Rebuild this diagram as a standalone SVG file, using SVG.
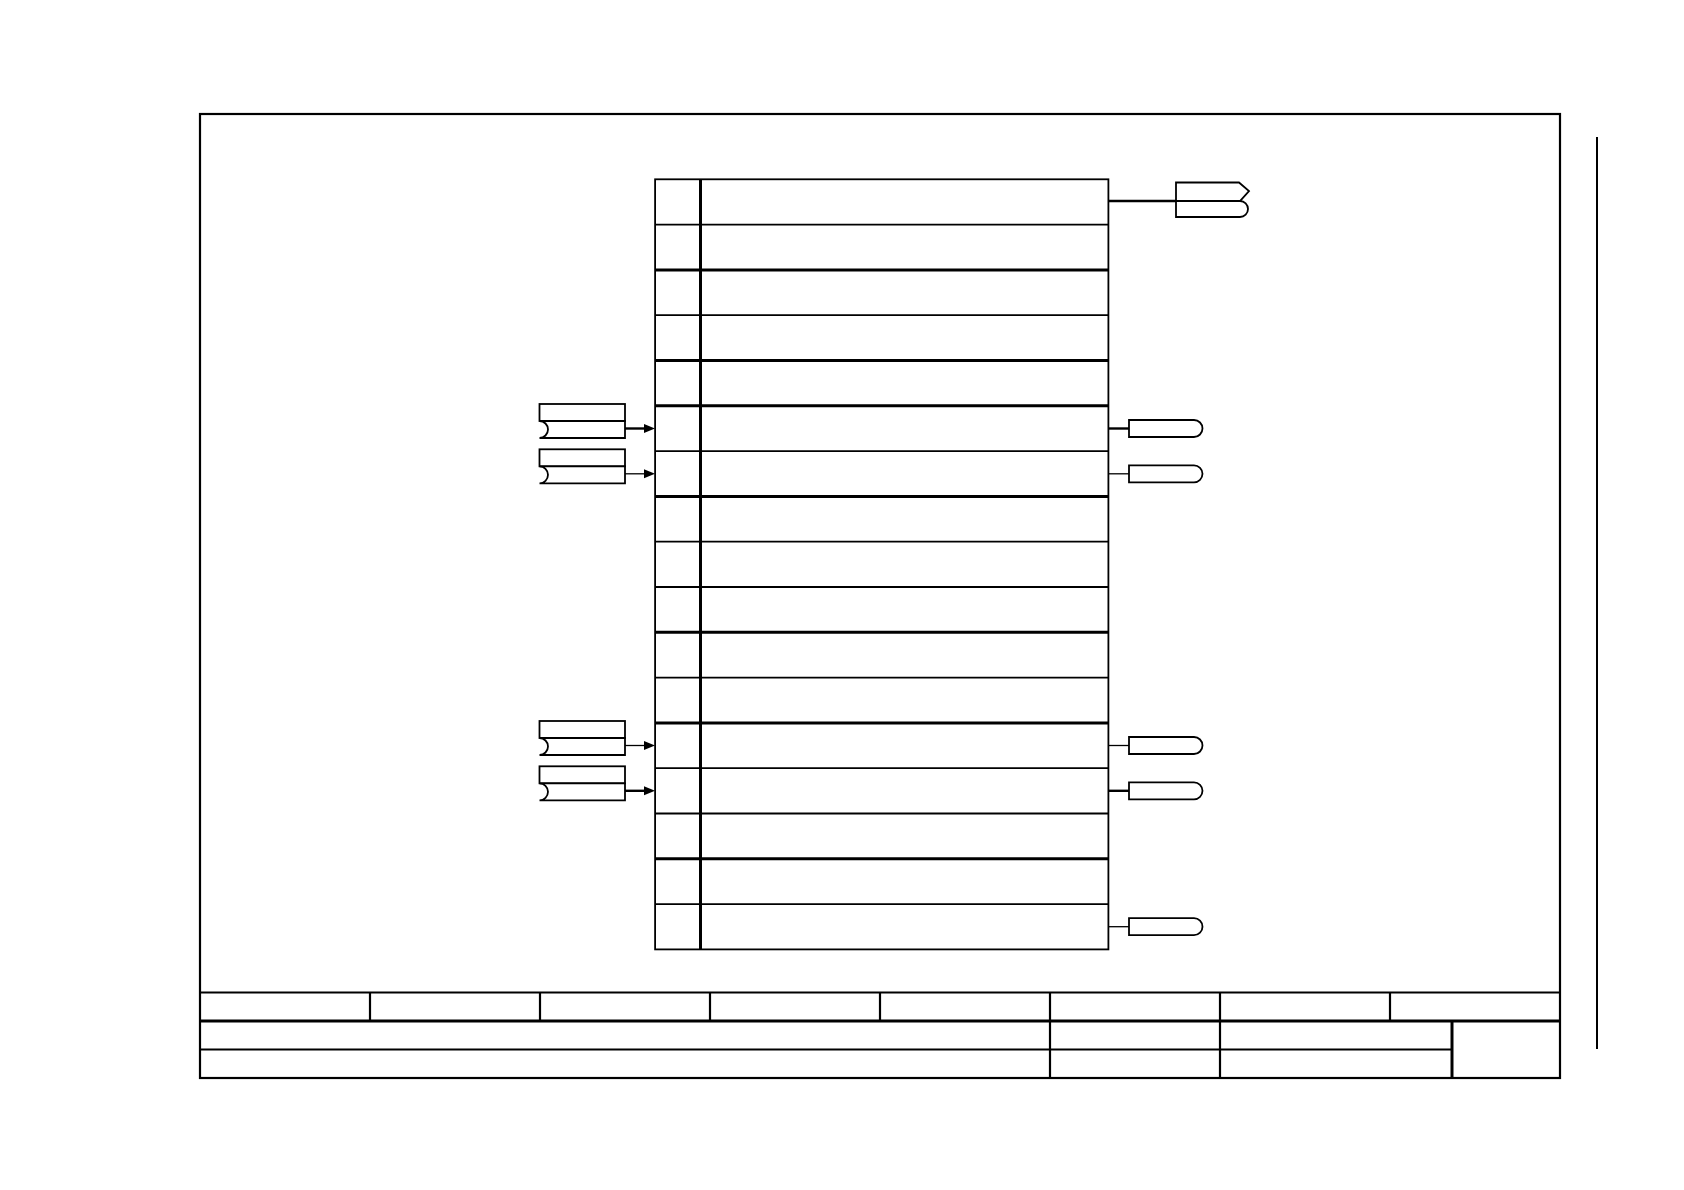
<svg xmlns="http://www.w3.org/2000/svg" width="1684" height="1190" viewBox="0 0 1684 1190">
<style>
.ln{stroke:#000;fill:none}
.thin{stroke-width:1.8}
.thick{stroke-width:3}
.box{stroke:#000;fill:#fff;stroke-width:1.8}
.w1{stroke:#000;stroke-width:1.3;fill:none}
.w2{stroke:#000;stroke-width:2.4;fill:none}
.ah{fill:#000}
</style>
<rect width="1684" height="1190" fill="#fff"/>
<g id="frame">
<rect x="200" y="114" width="1360" height="964" class="ln" stroke-width="2.2"/>
<line x1="1597" y1="137" x2="1597" y2="1049" class="ln" stroke-width="2"/>
</g>
<g id="title-block">
<line x1="200" y1="992.5" x2="1560" y2="992.5" class="ln" stroke-width="2.2"/>
<line x1="200" y1="1021" x2="1560" y2="1021" class="ln thick"/>
<line x1="200" y1="1049.5" x2="1452" y2="1049.5" class="ln" stroke-width="2.2"/>
<g class="ln" stroke-width="2.2">
<line x1="370" y1="992.5" x2="370" y2="1021"/>
<line x1="540" y1="992.5" x2="540" y2="1021"/>
<line x1="710" y1="992.5" x2="710" y2="1021"/>
<line x1="880" y1="992.5" x2="880" y2="1021"/>
<line x1="1050" y1="992.5" x2="1050" y2="1078"/>
<line x1="1220" y1="992.5" x2="1220" y2="1078"/>
<line x1="1390" y1="992.5" x2="1390" y2="1021"/>
</g>
<line x1="1452" y1="1021" x2="1452" y2="1078" class="ln thick"/>
</g>
<g id="table">
<rect x="655.1" y="179.3" width="453.3" height="770.1" class="box"/>
<g class="ln thin">
<line x1="655.1" y1="224.6" x2="1108.4" y2="224.6"/>
<line x1="655.1" y1="315.2" x2="1108.4" y2="315.2"/>
<line x1="655.1" y1="451.1" x2="1108.4" y2="451.1"/>
<line x1="655.1" y1="541.7" x2="1108.4" y2="541.7"/>
<line x1="655.1" y1="587.0" x2="1108.4" y2="587.0"/>
<line x1="655.1" y1="677.6" x2="1108.4" y2="677.6"/>
<line x1="655.1" y1="768.2" x2="1108.4" y2="768.2"/>
<line x1="655.1" y1="813.5" x2="1108.4" y2="813.5"/>
<line x1="655.1" y1="904.1" x2="1108.4" y2="904.1"/>
</g>
<g class="ln thick">
<line x1="655.1" y1="269.9" x2="1108.4" y2="269.9"/>
<line x1="655.1" y1="360.5" x2="1108.4" y2="360.5"/>
<line x1="655.1" y1="405.8" x2="1108.4" y2="405.8"/>
<line x1="655.1" y1="496.4" x2="1108.4" y2="496.4"/>
<line x1="655.1" y1="632.3" x2="1108.4" y2="632.3"/>
<line x1="655.1" y1="722.9" x2="1108.4" y2="722.9"/>
<line x1="655.1" y1="858.8" x2="1108.4" y2="858.8"/>
<line x1="700.5" y1="179.3" x2="700.5" y2="949.4"/>
</g>
</g>
<g id="in-row6">
<rect x="539.5" y="404" width="85.5" height="17" class="box" stroke-width="2.2"/>
<path d="M539.5,421 A8.5,8.5 0 0 1 539.5,438 H625 V421 Z" class="box"/>
</g>
<g id="in-row7">
<rect x="539.5" y="449.3" width="85.5" height="17" class="box" stroke-width="2.2"/>
<path d="M539.5,466.3 A8.5,8.5 0 0 1 539.5,483.3 H625 V466.3 Z" class="box"/>
</g>
<g id="in-row13">
<rect x="539.5" y="721" width="85.5" height="17" class="box" stroke-width="2.2"/>
<path d="M539.5,738 A8.5,8.5 0 0 1 539.5,755 H625 V738 Z" class="box"/>
</g>
<g id="in-row14">
<rect x="539.5" y="766.3" width="85.5" height="17" class="box" stroke-width="2.2"/>
<path d="M539.5,783.3 A8.5,8.5 0 0 1 539.5,800.3 H625 V783.3 Z" class="box"/>
</g>
<g id="out-row1">
<path d="M1176,182.5 H1239 L1249,191 L1240,201 H1176 Z" class="box"/>
<path d="M1176,201 H1240 A8,8 0 0 1 1240,217 H1176 Z" class="box"/>
</g>
<g id="out-row6"><path d="M1129,420 H1194 A8.5,8.5 0 0 1 1194,437 H1129 Z" class="box"/></g>
<g id="out-row7"><path d="M1129,465.3 H1194 A8.5,8.5 0 0 1 1194,482.3 H1129 Z" class="box"/></g>
<g id="out-row13"><path d="M1129,737 H1194 A8.5,8.5 0 0 1 1194,754 H1129 Z" class="box"/></g>
<g id="out-row14"><path d="M1129,782.3 H1194 A8.5,8.5 0 0 1 1194,799.3 H1129 Z" class="box"/></g>
<g id="out-row17"><path d="M1129,918.2 H1194 A8.5,8.5 0 0 1 1194,935.2 H1129 Z" class="box"/></g>
<g id="connectors">
<line x1="1108.4" y1="201" x2="1176" y2="201" class="w2"/>
<line x1="625" y1="428.5" x2="646" y2="428.5" class="w2"/>
<polygon points="644,424 655,428.5 644,433" class="ah"/>
<line x1="625" y1="473.8" x2="646" y2="473.8" class="w1"/>
<polygon points="644,469.3 655,473.8 644,478.3" class="ah"/>
<line x1="625" y1="745.5" x2="646" y2="745.5" class="w1"/>
<polygon points="644,741 655,745.5 644,750" class="ah"/>
<line x1="625" y1="790.8" x2="646" y2="790.8" class="w2"/>
<polygon points="644,786.3 655,790.8 644,795.3" class="ah"/>
<line x1="1108.4" y1="428.5" x2="1129" y2="428.5" class="w2"/>
<line x1="1108.4" y1="473.8" x2="1129" y2="473.8" class="w1"/>
<line x1="1108.4" y1="745.5" x2="1129" y2="745.5" class="w1"/>
<line x1="1108.4" y1="790.8" x2="1129" y2="790.8" class="w2"/>
<line x1="1108.4" y1="926.7" x2="1129" y2="926.7" class="w1"/>
</g>
</svg>
